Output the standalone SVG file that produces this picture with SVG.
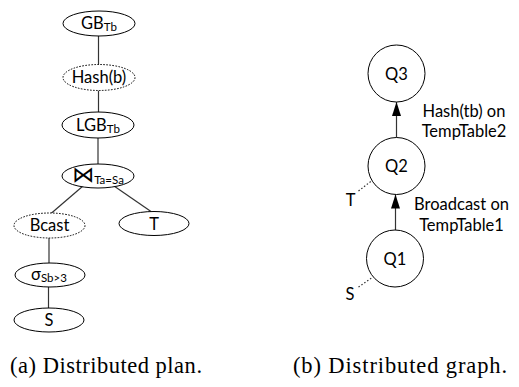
<svg xmlns="http://www.w3.org/2000/svg" width="519" height="387" viewBox="0 0 519 387">
  <defs>
    <marker id="arrow" viewBox="0 0 14 10" refX="14" refY="5" markerWidth="14" markerHeight="10" markerUnits="userSpaceOnUse" orient="auto">
      <path d="M0,0.5 L14,5 L0,9.5 Z" fill="#000"/>
    </marker>
    <style>
      .op { fill: #fff; stroke: #000; stroke-width: 1; }
      .xchg { fill: #fff; stroke: #000; stroke-width: 1; stroke-dasharray: 1.6 1.4; }
      .frag { fill: #fff; stroke: #000; stroke-width: 1; }
      .edge { stroke: #333; stroke-width: 1.2; fill: none; }
      .flow { stroke: #333; stroke-width: 1.2; fill: none; marker-end: url(#arrow); }
      .src { stroke: #333; stroke-width: 1.2; fill: none; stroke-dasharray: 1.5 2; }
      .lbl { font-family: Lato, "Open Sans", "Liberation Sans", sans-serif; font-size: 16.5px; fill: #000; text-anchor: middle; }
      .sub { font-size: 11.5px; }
      .sym { font-family: "DejaVu Sans", sans-serif; }
      .cap { font-family: "Liberation Serif", serif; font-size: 22.5px; fill: #000; }
    </style>
  </defs>

  <!-- plan tree edges -->
  <g id="plan-edges">
    <line class="edge" x1="98.5" y1="36" x2="98.5" y2="65"/>
    <line class="edge" x1="98.5" y1="90.5" x2="98.5" y2="112"/>
    <line class="edge" x1="98" y1="138" x2="98" y2="164"/>
    <line class="edge" x1="83" y1="186" x2="51" y2="213.5"/>
    <line class="edge" x1="114" y1="186" x2="151" y2="211.5"/>
    <line class="edge" x1="49" y1="238" x2="49" y2="263"/>
    <line class="edge" x1="48.5" y1="287" x2="48.5" y2="308"/>
  </g>

  <!-- plan tree operators -->
  <g id="gb">
    <ellipse class="op" cx="99" cy="23.5" rx="36" ry="12.5"/>
    <text class="lbl" x="99" y="28.5">GB<tspan class="sub" dy="2">Tb</tspan></text>
  </g>
  <g id="hash">
    <ellipse class="xchg" cx="99" cy="77.5" rx="36" ry="13"/>
    <text class="lbl" x="99" y="83">Hash(b)</text>
  </g>
  <g id="lgb">
    <ellipse class="op" cx="98" cy="125" rx="36" ry="13"/>
    <text class="lbl" x="98" y="130.5">LGB<tspan class="sub" dy="2">Tb</tspan></text>
  </g>
  <g id="join">
    <ellipse class="op" cx="98" cy="176" rx="36" ry="12"/>
    <text class="lbl" x="98" y="181.5"><tspan class="sym" font-size="22">⋈</tspan><tspan class="sub" dy="2">Ta=Sa</tspan></text>
  </g>
  <g id="bcast">
    <ellipse class="xchg" cx="49.5" cy="225.5" rx="35.5" ry="12.5"/>
    <text class="lbl" x="49.5" y="231">Bcast</text>
  </g>
  <g id="scan-t">
    <ellipse class="op" cx="154" cy="223.5" rx="35" ry="12"/>
    <text class="lbl" x="154" y="229.5">T</text>
  </g>
  <g id="select">
    <ellipse class="op" cx="50" cy="275" rx="35" ry="12"/>
    <text class="lbl" x="49" y="279.5">σ<tspan class="sub" dy="2">Sb&gt;3</tspan></text>
  </g>
  <g id="scan-s">
    <ellipse class="op" cx="49" cy="320" rx="35" ry="12"/>
    <text class="lbl" x="49" y="326">S</text>
  </g>

  <!-- fragment graph connectors -->
  <g id="graph-edges">
    <line class="flow" x1="396.5" y1="137.5" x2="396.5" y2="102"/>
    <line class="flow" x1="395.5" y1="230" x2="395.5" y2="194.5"/>
    <line class="src" x1="358.5" y1="191" x2="372" y2="180.5"/>
    <line class="src" x1="358.5" y1="287" x2="373" y2="277"/>
  </g>

  <!-- fragments -->
  <g id="q3">
    <circle class="frag" cx="396.5" cy="73.5" r="28.5"/>
    <text class="lbl" x="396.5" y="79.5">Q3</text>
  </g>
  <g id="q2">
    <circle class="frag" cx="396.5" cy="166" r="28.5"/>
    <text class="lbl" x="396.5" y="172">Q2</text>
  </g>
  <g id="q1">
    <circle class="frag" cx="395" cy="258.5" r="28.5"/>
    <text class="lbl" x="395" y="264.5">Q1</text>
  </g>

  <!-- edge labels and table inputs -->
  <g id="graph-labels">
    <text class="lbl" x="464" y="117">Hash(tb) on</text>
    <text class="lbl" x="464" y="137">TempTable2</text>
    <text class="lbl" x="461.5" y="210">Broadcast on</text>
    <text class="lbl" x="461.5" y="231">TempTable1</text>
    <text class="lbl" x="350.5" y="206">T</text>
    <text class="lbl" x="350" y="300">S</text>
  </g>

  <!-- captions -->
  <text class="cap" x="10" y="373" textLength="192" lengthAdjust="spacing">(a) Distributed plan.</text>
  <text class="cap" x="293" y="373" textLength="214" lengthAdjust="spacing">(b) Distributed graph.</text>
</svg>
